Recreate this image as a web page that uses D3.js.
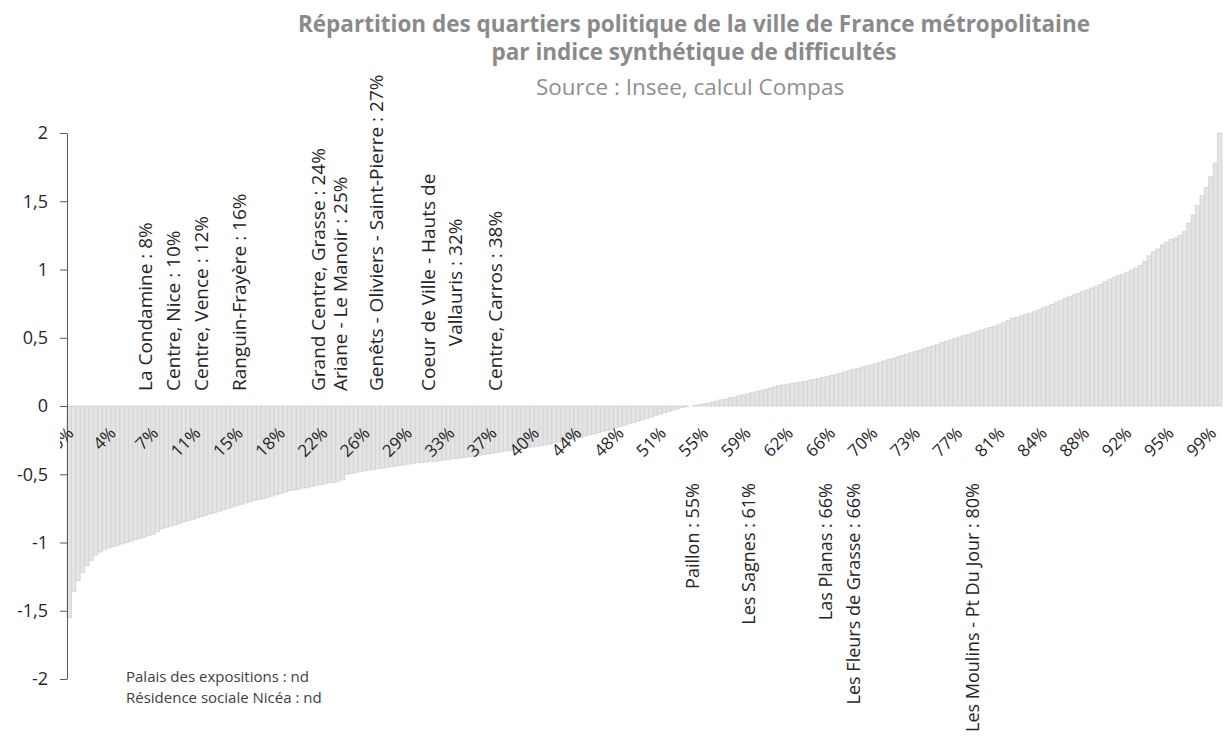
<!doctype html>
<html>
  <head>
    <meta charset="utf-8">
    <script src="https://cdn.jsdelivr.net/npm/d3@7"></script>
    <style>
      body { margin: 0; background: #fff; }
      svg { font-family: "Open Sans", "DejaVu Sans", sans-serif; }
    </style>
  </head>
  <body>
    <svg id="chart"></svg>
    <script>
      // nombre de quartiers (rangs) et pas d'échantillonnage des barres
      var nbQuartiers = 1310;
      var pasRang = 5;

      // indice synthétique, trié, une barre tous les 5 rangs
      var indices = [
        -1.55, -1.36, -1.28, -1.22, -1.17, -1.13, -1.09, -1.07, -1.05, -1.04,
        -1.03, -1.02, -1.01, -1.00, -0.99, -0.98, -0.97, -0.96, -0.95, -0.94,
        -0.92, -0.90, -0.89, -0.88, -0.87, -0.86, -0.85, -0.84, -0.83, -0.82,
        -0.81, -0.80, -0.79, -0.78, -0.77, -0.76, -0.75, -0.74, -0.73, -0.72,
        -0.71, -0.70, -0.69, -0.685, -0.68, -0.67, -0.66, -0.65, -0.64, -0.63,
        -0.62, -0.615, -0.61, -0.60, -0.60, -0.59, -0.58, -0.575, -0.57, -0.56,
        -0.56, -0.55, -0.54, -0.50, -0.495, -0.49, -0.48, -0.475, -0.47, -0.465,
        -0.46, -0.455, -0.45, -0.445, -0.44, -0.435, -0.43, -0.425, -0.42, -0.415,
        -0.415, -0.41, -0.405, -0.405, -0.40, -0.395, -0.39, -0.385, -0.385, -0.38,
        -0.375, -0.37, -0.365, -0.36, -0.355, -0.35, -0.345, -0.34, -0.335, -0.33,
        -0.325, -0.32, -0.315, -0.31, -0.305, -0.30, -0.295, -0.29, -0.285, -0.28,
        -0.27, -0.265, -0.26, -0.25, -0.245, -0.235, -0.23, -0.22, -0.21, -0.205,
        -0.195, -0.185, -0.18, -0.17, -0.16, -0.15, -0.14, -0.13, -0.12, -0.11,
        -0.10, -0.09, -0.08, -0.07, -0.06, -0.05, -0.04, -0.03, -0.02, -0.01,
        -0.005, 0.0, 0.005, 0.01, 0.015, 0.02, 0.03, 0.035, 0.045, 0.05,
        0.06, 0.065, 0.075, 0.08, 0.09, 0.10, 0.105, 0.115, 0.12, 0.13,
        0.14, 0.15, 0.155, 0.16, 0.165, 0.17, 0.175, 0.18, 0.19, 0.195,
        0.20, 0.21, 0.215, 0.225, 0.23, 0.24, 0.25, 0.26, 0.27, 0.275,
        0.285, 0.295, 0.30, 0.31, 0.32, 0.33, 0.34, 0.35, 0.36, 0.37,
        0.38, 0.39, 0.40, 0.41, 0.42, 0.43, 0.44, 0.45, 0.465, 0.475,
        0.485, 0.495, 0.505, 0.515, 0.525, 0.535, 0.545, 0.555, 0.565, 0.575,
        0.585, 0.595, 0.61, 0.625, 0.64, 0.65, 0.66, 0.67, 0.68, 0.69,
        0.705, 0.72, 0.73, 0.745, 0.76, 0.775, 0.79, 0.80, 0.815, 0.825,
        0.84, 0.85, 0.865, 0.875, 0.89, 0.91, 0.925, 0.94, 0.955, 0.965,
        0.98, 0.995, 1.01, 1.03, 1.06, 1.10, 1.13, 1.15, 1.18, 1.20,
        1.22, 1.23, 1.25, 1.28, 1.34, 1.40, 1.47, 1.54, 1.60, 1.68,
        1.78, 2.00
      ];

      // étiquettes de l'axe horizontal (une tous les 48 rangs)
      var pasEtiquette = 48;
      var etiquettesX = ["0%", "4%", "7%", "11%", "15%", "18%", "22%", "26%", "29%", "33%",
        "37%", "40%", "44%", "48%", "51%", "55%", "59%", "62%", "66%", "70%",
        "73%", "77%", "81%", "84%", "88%", "92%", "95%", "99%"];

      var ticksY = [2, 1.5, 1, 0.5, 0, -0.5, -1, -1.5, -2];

      // quartiers mis en avant (rang approximatif)
      var quartiersHaut = [
        { lignes: ["La Condamine : 8%"], rang: 88 },
        { lignes: ["Centre, Nice : 10%"], rang: 120 },
        { lignes: ["Centre, Vence : 12%"], rang: 152 },
        { lignes: ["Ranguin-Frayère : 16%"], rang: 195 },
        { lignes: ["Grand Centre, Grasse : 24%"], rang: 285 },
        { lignes: ["Ariane - Le Manoir : 25%"], rang: 310 },
        { lignes: ["Genêts - Oliviers - Saint-Pierre : 27%"], rang: 350 },
        { lignes: ["Coeur de Ville - Hauts de", "Vallauris : 32%"], rang: 425 },
        { lignes: ["Centre, Carros : 38%"], rang: 485 }
      ];
      var quartiersBas = [
        { lignes: ["Paillon : 55%"], rang: 709 },
        { lignes: ["Les Sagnes : 61%"], rang: 772 },
        { lignes: ["Las Planas : 66%"], rang: 860 },
        { lignes: ["Les Fleurs de Grasse : 66%"], rang: 891 },
        { lignes: ["Les Moulins - Pt Du Jour : 80%"], rang: 1026 }
      ];
      var nonDisponibles = ["Palais des expositions : nd", "Résidence sociale Nicéa : nd"];

      var titre = ["Répartition des quartiers politique de la ville de France métropolitaine",
                   "par indice synthétique de difficultés"];
      var source = "Source : Insee, calcul Compas";

      //==== mise en page ====
      var width = 1225, height = 738;
      var plot = { left: 67, right: 1222, top: 133, bottom: 679 };

      var svg = d3.select("#chart").attr("width", width).attr("height", height);

      var x = d3.scaleLinear().domain([0, nbQuartiers]).range([plot.left, plot.right]);
      var y = d3.scaleLinear().domain([-2, 2]).range([plot.bottom, plot.top]);

      // barres
      var largeur = x(pasRang) - x(0);
      svg.append("g").selectAll("rect").data(indices).enter().append("rect")
        .attr("x", (d, i) => x(i * pasRang))
        .attr("width", largeur)
        .attr("y", d => y(Math.max(0, d)))
        .attr("height", d => Math.abs(y(d) - y(0)))
        .attr("fill", "#e4e4e4")
        .attr("stroke", "#d2d2d2")
        .attr("stroke-width", 0.8);

      // axe vertical
      var axeY = d3.axisLeft(y).tickValues(ticksY).tickSize(7).tickSizeOuter(0)
        .tickFormat(d => String(d).replace(".", ","));
      var gY = svg.append("g").attr("transform", "translate(" + plot.left + ",0)").call(axeY);
      gY.select(".domain").attr("stroke", "#595959");
      gY.selectAll(".tick line").attr("stroke", "#595959");
      gY.selectAll("text").attr("x", -19).attr("font-size", 18)
        .attr("font-family", "Open Sans").attr("fill", "#262626");

      // axe horizontal (étiquettes seulement), coupé à gauche comme dans l'original
      svg.append("clipPath").attr("id", "clipx")
        .append("rect").attr("x", 60).attr("y", 380).attr("width", 1170).attr("height", 120);
      var axeX = d3.axisBottom(x)
        .tickValues(etiquettesX.map((d, i) => i * pasEtiquette))
        .tickSize(0)
        .tickFormat((d, i) => etiquettesX[i]);
      var gX = svg.append("g").attr("clip-path", "url(#clipx)")
        .append("g").attr("transform", "translate(0," + y(0) + ")").call(axeX);
      gX.select(".domain").remove();
      gX.selectAll("text")
        .attr("font-size", 17).attr("font-family", "Open Sans").attr("fill", "#262626")
        .attr("text-anchor", "end")
        .attr("y", 0).attr("dy", "0.35em")
        .attr("transform", "translate(3,24) rotate(-45)");

      // titres
      var gT = svg.append("g").attr("text-anchor", "middle");
      gT.selectAll("text.titre").data(titre).enter().append("text")
        .attr("x", 694).attr("y", (d, i) => 32 + i * 28)
        .attr("font-size", 22.5).attr("font-weight", "bold").attr("fill", "#8a8a8a")
        .text(d => d);
      gT.append("text").attr("x", 690).attr("y", 95)
        .attr("font-size", 22.5).attr("fill", "#8f8f8f").text(source);

      // annotations verticales
      function annoter(liste, yAncre, haut, taille) {
        liste.forEach(function (q) {
          var g = svg.append("g")
            .attr("transform", "translate(" + x(q.rang) + "," + yAncre + ") rotate(-90)");
          var t = g.append("text").attr("font-size", taille).attr("fill", "#262626")
            .attr("dominant-baseline", "central");
          if (q.lignes.length === 1) {
            t.attr("text-anchor", haut ? "start" : "end").text(q.lignes[0]);
          } else {
            t.attr("text-anchor", "middle");
            q.lignes.forEach(function (l, i) {
              t.append("tspan").attr("x", 0)
                .attr("y", (i - (q.lignes.length - 1) / 2) * 27).text(l);
            });
            var long = d3.max(t.selectAll("tspan").nodes(), n => n.getComputedTextLength());
            t.attr("transform", "translate(" + long / 2 + ",0)");
          }
        });
      }
      annoter(quartiersHaut, 391, true, 19);
      annoter(quartiersBas, 483, false, 18);

      // quartiers sans données
      svg.append("g").selectAll("text").data(nonDisponibles).enter().append("text")
        .attr("x", 126).attr("y", (d, i) => 682 + i * 21)
        .attr("font-size", 15).attr("fill", "#404040")
        .text(d => d);
    </script>
  </body>
</html>
